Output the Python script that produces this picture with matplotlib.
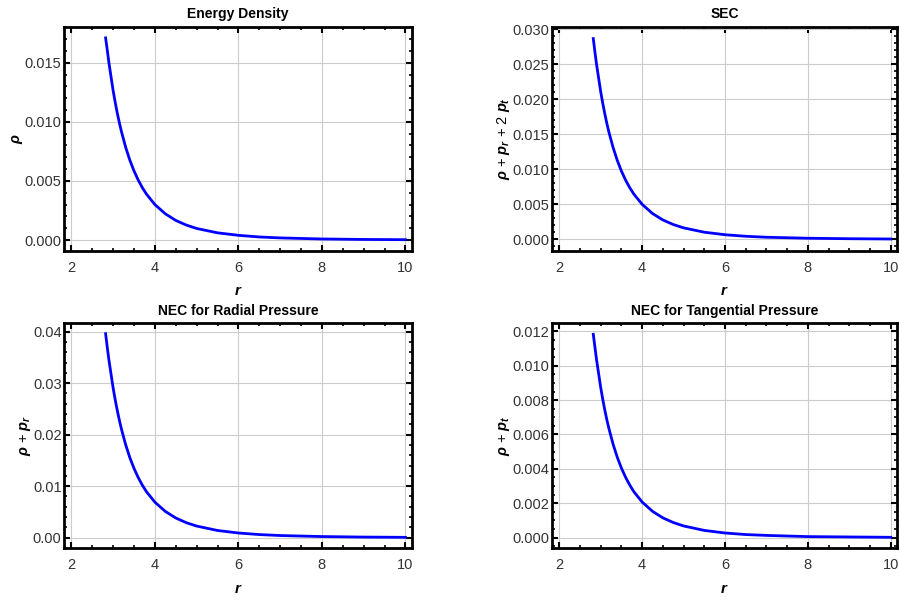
import numpy as np
import matplotlib.pyplot as plt
from matplotlib.ticker import MultipleLocator, FormatStrFormatter

plt.rcParams['font.family'] = ['Liberation Sans', 'DejaVu Sans']
plt.rcParams['mathtext.fontset'] = 'custom'
plt.rcParams['mathtext.it'] = 'Liberation Sans:bold:italic'
plt.rcParams['mathtext.rm'] = 'Liberation Sans:bold'
plt.rcParams['mathtext.bf'] = 'Liberation Sans:bold'

# values
r = [2.82, 2.86, 2.9, 3.0, 3.05, 3.1, 3.15, 3.2, 3.3, 3.4, 3.5, 3.6, 3.7, 3.8,
     4.0, 4.25, 4.5, 4.75, 5.0, 5.5, 6.0, 6.5, 7.0, 8.0, 9.0, 10.0]
rho = [0.0171, 0.01606, 0.01498, 0.01264, 0.01164, 0.01073, 0.00991, 0.00916,
       0.00785, 0.00676, 0.00585, 0.00508, 0.00443, 0.00388, 0.00300, 0.00222,
       0.00166, 0.00127, 0.00098, 0.00061, 0.00040, 0.00026, 0.00018, 0.00009,
       0.00005, 0.00003]
sec = [0.0287, 0.02676, 0.02496, 0.02107, 0.0194, 0.01789, 0.01651, 0.01526,
       0.01309, 0.01127, 0.00975, 0.00847, 0.00738, 0.00646, 0.0050, 0.00369,
       0.00277, 0.00212, 0.00164, 0.00102, 0.00066, 0.00044, 0.00030, 0.00016,
       0.00009, 0.00005]
nec_r = [0.0396, 0.03693, 0.03444, 0.02908, 0.02677, 0.02468, 0.02278, 0.02106,
         0.01806, 0.01555, 0.01346, 0.01169, 0.01019, 0.00891, 0.0069, 0.0051,
         0.00383, 0.00292, 0.00226, 0.0014, 0.00091, 0.00061, 0.00042, 0.00022,
         0.00012, 0.00007]
nec_t = [0.01183, 0.01108, 0.01033, 0.00872, 0.00803, 0.0074, 0.00683, 0.00632,
         0.00542, 0.00467, 0.00404, 0.00351, 0.00306, 0.00267, 0.00207, 0.00153,
         0.00115, 0.00088, 0.00068, 0.00042, 0.00027, 0.00018, 0.00013, 0.00006,
         0.00004, 0.00002]

titles = ["Energy Density", "SEC", "NEC for Radial Pressure", "NEC for Tangential Pressure"]
ylabels = [r"$\rho$", r"$\rho$ + $p_r$ + 2 $p_t$", r"$\rho$ + $p_r$", r"$\rho$ + $p_t$"]
series = [rho, sec, nec_r, nec_t]
ylims = [(-0.00093, 0.01805), (-0.00167, 0.0304), (-0.00206, 0.04163), (-0.00062, 0.01247)]
ymajor = [0.005, 0.005, 0.01, 0.002]
yminor = [0.001, 0.001, 0.002, 0.0005]
yfmt = ["%.3f", "%.3f", "%.2f", "%.3f"]

fig = plt.figure(figsize=(8.99, 6.02), dpi=100)
boxes = [[0.0715, 0.583, 0.3864, 0.3727],
         [0.6143, 0.583, 0.3835, 0.3727],
         [0.0715, 0.0892, 0.3864, 0.3738],
         [0.6143, 0.0892, 0.3835, 0.3738]]

for i in range(4):
    ax = fig.add_axes(boxes[i])
    ax.plot(r, series[i], color='#0000ff', lw=2)
    ax.set_xlim(1.83, 10.15)
    ax.set_ylim(*ylims[i])
    ax.xaxis.set_major_locator(MultipleLocator(2))
    ax.xaxis.set_minor_locator(MultipleLocator(0.5))
    ax.yaxis.set_major_locator(MultipleLocator(ymajor[i]))
    ax.yaxis.set_minor_locator(MultipleLocator(yminor[i]))
    ax.yaxis.set_major_formatter(FormatStrFormatter(yfmt[i]))
    ax.grid(True, which='major', color='#cccccc', lw=0.8)
    ax.tick_params(which='both', direction='in', top=True, right=True,
                   colors='black', labelcolor='#333333', labelsize=10.5)
    ax.tick_params(which='major', length=4, width=1.5, pad=2)
    ax.tick_params(axis='x', which='major', pad=7)
    ax.tick_params(which='minor', length=2.5, width=1.2)
    for s in ax.spines.values():
        s.set_linewidth(2)
    ax.set_title(titles[i], fontsize=10, fontweight='bold', pad=6)
    ax.set_xlabel(r"$r$", fontsize=11, labelpad=7)
    ax.set_ylabel(ylabels[i], fontsize=10.5, labelpad=0)

fig.savefig("out.png", dpi=100)
